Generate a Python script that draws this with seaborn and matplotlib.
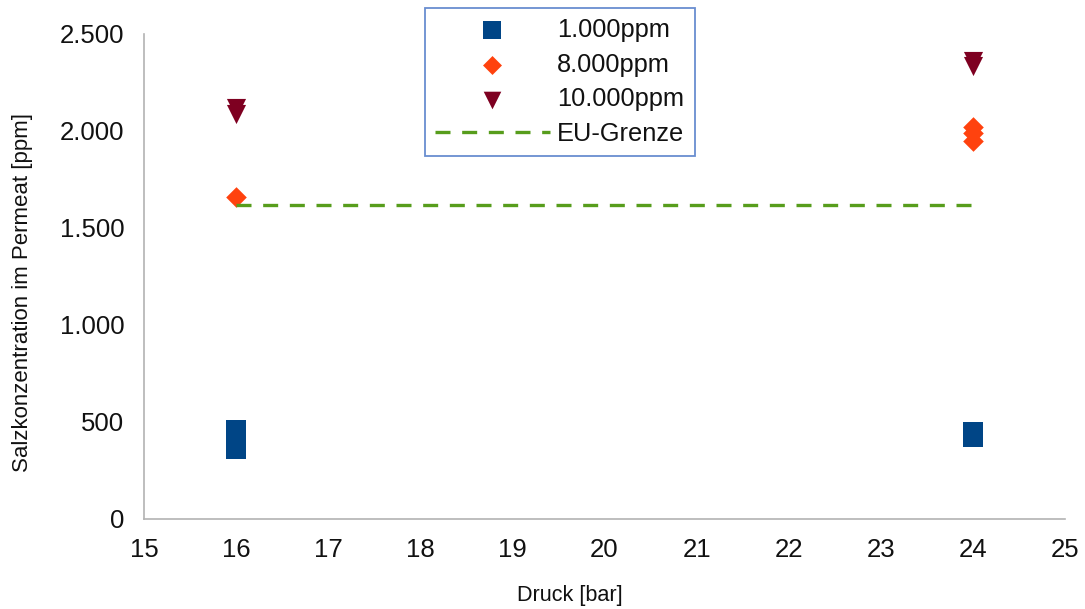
import matplotlib
matplotlib.use('Agg')
import matplotlib.pyplot as plt
from matplotlib.ticker import FuncFormatter
import seaborn as sns

# %% data
druck_1000 = [16, 16, 16, 24, 24]
salz_1000 = [460, 410, 360, 450, 425]
druck_8000 = [16, 24, 24, 24]
salz_8000 = [1660, 2020, 1990, 1950]
druck_10000 = [16, 16, 24, 24]
salz_10000 = [2120, 2090, 2360, 2335]
eu_druck = [16, 24]
eu_grenze = [1620, 1620]

series_labels = ['1.000ppm', '8.000ppm', '10.000ppm', 'EU-Grenze']

# %% styling
sns.set_style('white')
plt.rcParams['font.family'] = ['Liberation Sans', 'DejaVu Sans']

fig = plt.figure(figsize=(10.85, 6.09), dpi=100)
ax = fig.add_axes([0.1327, 0.1478, 0.8489, 0.7964])

sns.scatterplot(x=druck_1000, y=salz_1000, marker='s', color='#004586', s=195,
                linewidth=0, label=series_labels[0], ax=ax)
sns.scatterplot(x=druck_8000, y=salz_8000, marker='D', color='#ff420e', s=110,
                linewidth=0, label=series_labels[1], ax=ax)
sns.scatterplot(x=druck_10000, y=salz_10000, marker='v', color='#7e0021', s=190,
                linewidth=0, label=series_labels[2], ax=ax)
sns.lineplot(x=eu_druck, y=eu_grenze, color='#579d1c', lw=2.4,
             dashes=False, label=series_labels[3], ax=ax)
ax.lines[-1].set_dashes((5.5, 4))

ax.set_xlim(15, 25)
ax.set_ylim(0, 2500)
ax.set_xticks(range(15, 26))
ax.set_yticks(range(0, 2501, 500))
ax.yaxis.set_major_formatter(FuncFormatter(lambda v, p: f'{int(v):,}'.replace(',', '.')))

for side in ['top', 'right']:
    ax.spines[side].set_visible(False)
for side in ['left', 'bottom']:
    ax.spines[side].set_color('#b3b3b3')
    ax.spines[side].set_linewidth(1.2)
ax.tick_params(axis='both', length=8, width=1.2, color='#b3b3b3',
               labelsize=18.5, labelcolor='#111111', pad=6)

ax.set_xlabel('Druck [bar]', fontsize=15.6, color='#111111')
ax.set_ylabel('Salzkonzentration im Permeat [ppm]', fontsize=16, color='#111111')
ax.xaxis.set_label_coords(0.4625, -0.136)
ax.yaxis.set_label_coords(-0.1205, 0.468)

handles, labels = ax.get_legend_handles_labels()
ax.get_legend().remove()
for h in handles:
    if h.get_label() == 'EU-Grenze':
        h.set_dashes((4.5, 3.5))
leg = fig.legend(handles, labels, loc='upper left', bbox_to_anchor=(0.3917, 0.987),
                 fontsize=18.3, frameon=True, fancybox=False, handlelength=4.5,
                 handletextpad=0.3, labelspacing=0.42, borderpad=0.4,
                 borderaxespad=0, markerscale=0.92)
leg.get_frame().set_edgecolor('#4472c4')
leg.get_frame().set_linewidth(1.3)
for t in leg.get_texts():
    t.set_color('#111111')

plt.savefig('out.png', dpi=100)
